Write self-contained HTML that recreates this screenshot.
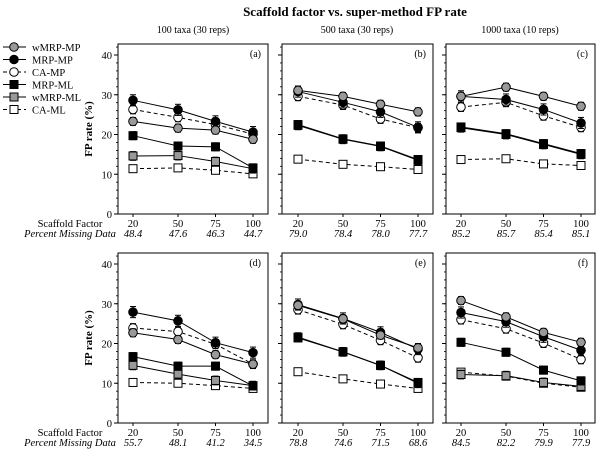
<!DOCTYPE html>
<html><head><meta charset="utf-8">
<style>
body{margin:0;background:#fff;}
svg{display:block;font-family:"Liberation Serif",serif;}
</style></head>
<body>
<svg id="chart" width="600" height="451" viewBox="0 0 600 451" xmlns="http://www.w3.org/2000/svg">
<text x="355" y="16" text-anchor="middle" font-size="13" font-weight="bold">Scaffold factor vs. super-method FP rate</text>
<text x="193" y="33" text-anchor="middle" font-size="10">100 taxa (30 reps)</text>
<text x="357" y="33" text-anchor="middle" font-size="10">500 taxa (30 reps)</text>
<text x="520" y="33" text-anchor="middle" font-size="10">1000 taxa (10 reps)</text>
<g id="legend"></g>
<g id="panels"></g>
</svg>
<script>
const scaffold = [20, 50, 75, 100];
const seriesNames = ["wMRP-MP","MRP-MP","CA-MP","MRP-ML","wMRP-ML","CA-ML"];
const panelLabels = ["(a)","(b)","(c)","(d)","(e)","(f)"];
const missingA = ["48.4","47.6","46.3","44.7"];
const missingB = ["79.0","78.4","78.0","77.7"];
const missingC = ["85.2","85.7","85.4","85.1"];
const missingD = ["55.7","48.1","41.2","34.5"];
const missingE = ["78.8","74.6","71.5","68.6"];
const missingF = ["84.5","82.2","79.9","77.9"];
const yTicks = [0,10,20,30,40];
// values per panel, series in order of seriesNames
const panelA = [[23.3,21.6,21.1,18.8],[28.6,26.2,23.3,20.6],[26.3,24.3,22.5,20.1],[19.7,17.1,16.9,11.6],[14.6,14.7,13.2,11.4],[11.4,11.6,11.0,10.1]];
const panelB = [[31.1,29.6,27.6,25.7],[30.8,28.1,25.7,21.8],[29.6,27.4,23.9,21.7],[22.5,18.9,17.1,13.7],[22.3,18.8,17.0,13.5],[13.8,12.5,11.9,11.2]];
const panelC = [[29.6,31.9,29.6,27.1],[29.6,28.8,26.3,22.9],[26.9,28.1,24.7,21.8],[21.9,20.2,17.7,15.2],[21.7,20.0,17.5,15.0],[13.7,13.9,12.6,12.2]];
const panelD = [[22.7,21.0,17.2,14.8],[27.9,25.7,20.2,17.7],[23.9,23.0,19.8,14.8],[16.7,14.3,14.3,9.3],[14.5,12.3,10.7,9.4],[10.2,10.0,9.4,8.7]];
const panelE = [[29.6,26.2,22.1,18.9],[29.8,26.3,22.8,18.6],[28.5,24.8,20.8,16.4],[21.4,17.9,14.5,10.2],[21.6,17.9,14.5,10.0],[12.9,11.1,9.8,8.7]];
const panelF = [[30.8,26.7,22.8,20.3],[27.8,25.5,21.7,18.3],[26.0,23.7,20.1,16.0],[20.3,17.8,13.3,10.6],[12.2,11.9,10.2,9.2],[12.8,11.8,10.0,9.0]];
const errA = [1.0,1.4,1.1,1.0,1.1,0.7];

const NS="http://www.w3.org/2000/svg";
const svg=document.getElementById('chart');
const styles=[
 {fill:"#999",shape:"c",dash:""},
 {fill:"#000",shape:"c",dash:""},
 {fill:"#fff",shape:"c",dash:"4,3"},
 {fill:"#000",shape:"s",dash:""},
 {fill:"#999",shape:"s",dash:""},
 {fill:"#fff",shape:"s",dash:"4,3"}];
function mk(tag,attrs,parent){const e=document.createElementNS(NS,tag);for(const k in attrs)e.setAttribute(k,attrs[k]);parent.appendChild(e);return e;}
function marker(g,shape,x,y,fill){
 if(shape==="c") return mk('circle',{cx:x,cy:y,r:4.3,fill:fill,stroke:"#000","stroke-width":1},g);
 return mk('rect',{x:x-4,y:y-4,width:8,height:8,fill:fill,stroke:"#000","stroke-width":1},g);
}
// legend
const lg=document.getElementById('legend');
seriesNames.forEach((n,i)=>{
 const y=47+i*12.5;
 const g=mk('g',{},lg);
 
 
 mk('line',{x1:3,y1:y,x2:26,y2:y,stroke:"#000","stroke-width":1,"stroke-dasharray":styles[i].dash},g);
 marker(g,styles[i].shape,14,y,styles[i].fill);
 const t=mk('text',{x:32,y:y+4,"font-size":"10.5"},g);t.textContent=n;
});
const panels=[
 {d:panelA,m:missingA,x0:118,x1:268,top:44,bot:214,y40:55,px:133,lab:true},
 {d:panelB,m:missingB,x0:282,x1:433,top:44,bot:214,y40:55,px:298,lab:false},
 {d:panelC,m:missingC,x0:446,x1:595,top:44,bot:214,y40:55,px:461,lab:false},
 {d:panelD,m:missingD,x0:118,x1:268,top:253,bot:423,y40:264,px:133,lab:true},
 {d:panelE,m:missingE,x0:282,x1:433,top:253,bot:423,y40:264,px:298,lab:false},
 {d:panelF,m:missingF,x0:446,x1:595,top:253,bot:423,y40:264,px:461,lab:false}];
const pg=document.getElementById('panels');
panels.forEach((p,pi)=>{
 const g=mk('g',{},pg);
 
 
 const xs=v=>p.px+(v-20)*1.5;
 const ys=v=>p.bot-(v/40)*(p.bot-p.y40);
 mk('rect',{x:p.x0,y:p.top,width:p.x1-p.x0,height:p.bot-p.top,fill:"none",stroke:"#000","stroke-width":1},g);
 for(let v=0;v<=42;v+=2){mk('line',{x1:p.x0-2,x2:p.x0,y1:ys(v),y2:ys(v),stroke:"#000","stroke-width":0.8},g);}
 yTicks.forEach(v=>{
  mk('line',{x1:p.x0-4,x2:p.x0,y1:ys(v),y2:ys(v),stroke:"#000","stroke-width":1},g);
  if(p.lab){const t=mk('text',{x:p.x0-6,y:ys(v)+4,"font-size":"10.5","text-anchor":"end"},g);t.textContent=v;
   }
 });
 scaffold.forEach((s,i)=>{
  mk('line',{x1:xs(s),x2:xs(s),y1:p.bot,y2:p.bot+3,stroke:"#000"},g);
  const t=mk('text',{x:xs(s),y:p.bot+13,"font-size":"10.5","text-anchor":"middle"},g);t.textContent=s;
  
  const t2=mk('text',{x:xs(s),y:p.bot+23,"font-size":"10.5","text-anchor":"middle","font-style":"italic"},g);t2.textContent=p.m[i];
  
 });
 const pl=mk('text',{x:p.x1-7,y:p.top+13,"font-size":"10","text-anchor":"end"},g);pl.textContent=panelLabels[pi];
 
 if(p.lab){
  const yl=mk('text',{x:0,y:0,"font-size":"11","font-weight":"bold","text-anchor":"middle",transform:`translate(${p.x0-26},${(p.top+p.bot)/2}) rotate(-90)`},g);
  yl.textContent="FP rate (%)";
  
  const a=mk('text',{x:70,y:p.bot+13,"font-size":"10.5","text-anchor":"middle"},g);a.textContent="Scaffold Factor";
  
  const b=mk('text',{x:70,y:p.bot+23,"font-size":"10.5","text-anchor":"middle","font-style":"italic"},g);b.textContent="Percent Missing Data";
  
 }
 for(let si=p.d.length-1;si>=0;si--){
  const sg=mk('g',{},g);
  
  
  const vals=p.d[si];
  const pts=vals.map((v,i)=>xs(scaffold[i])+','+ys(v)).join(' ');
  mk('polyline',{points:pts,fill:"none",stroke:"#000","stroke-width":1,"stroke-dasharray":styles[si].dash},sg);
  vals.forEach((v,i)=>{
   const x=xs(scaffold[i]),e=errA[si];
   mk('line',{x1:x,x2:x,y1:ys(v-e),y2:ys(v+e),stroke:"#000"},sg);
   mk('line',{x1:x-3,x2:x+3,y1:ys(v+e),y2:ys(v+e),stroke:"#000"},sg);
   mk('line',{x1:x-3,x2:x+3,y1:ys(v-e),y2:ys(v-e),stroke:"#000"},sg);
   const m=marker(sg,styles[si].shape,x,ys(v),styles[si].fill);
   
   
  });
 }
});
</script>
</body></html>
